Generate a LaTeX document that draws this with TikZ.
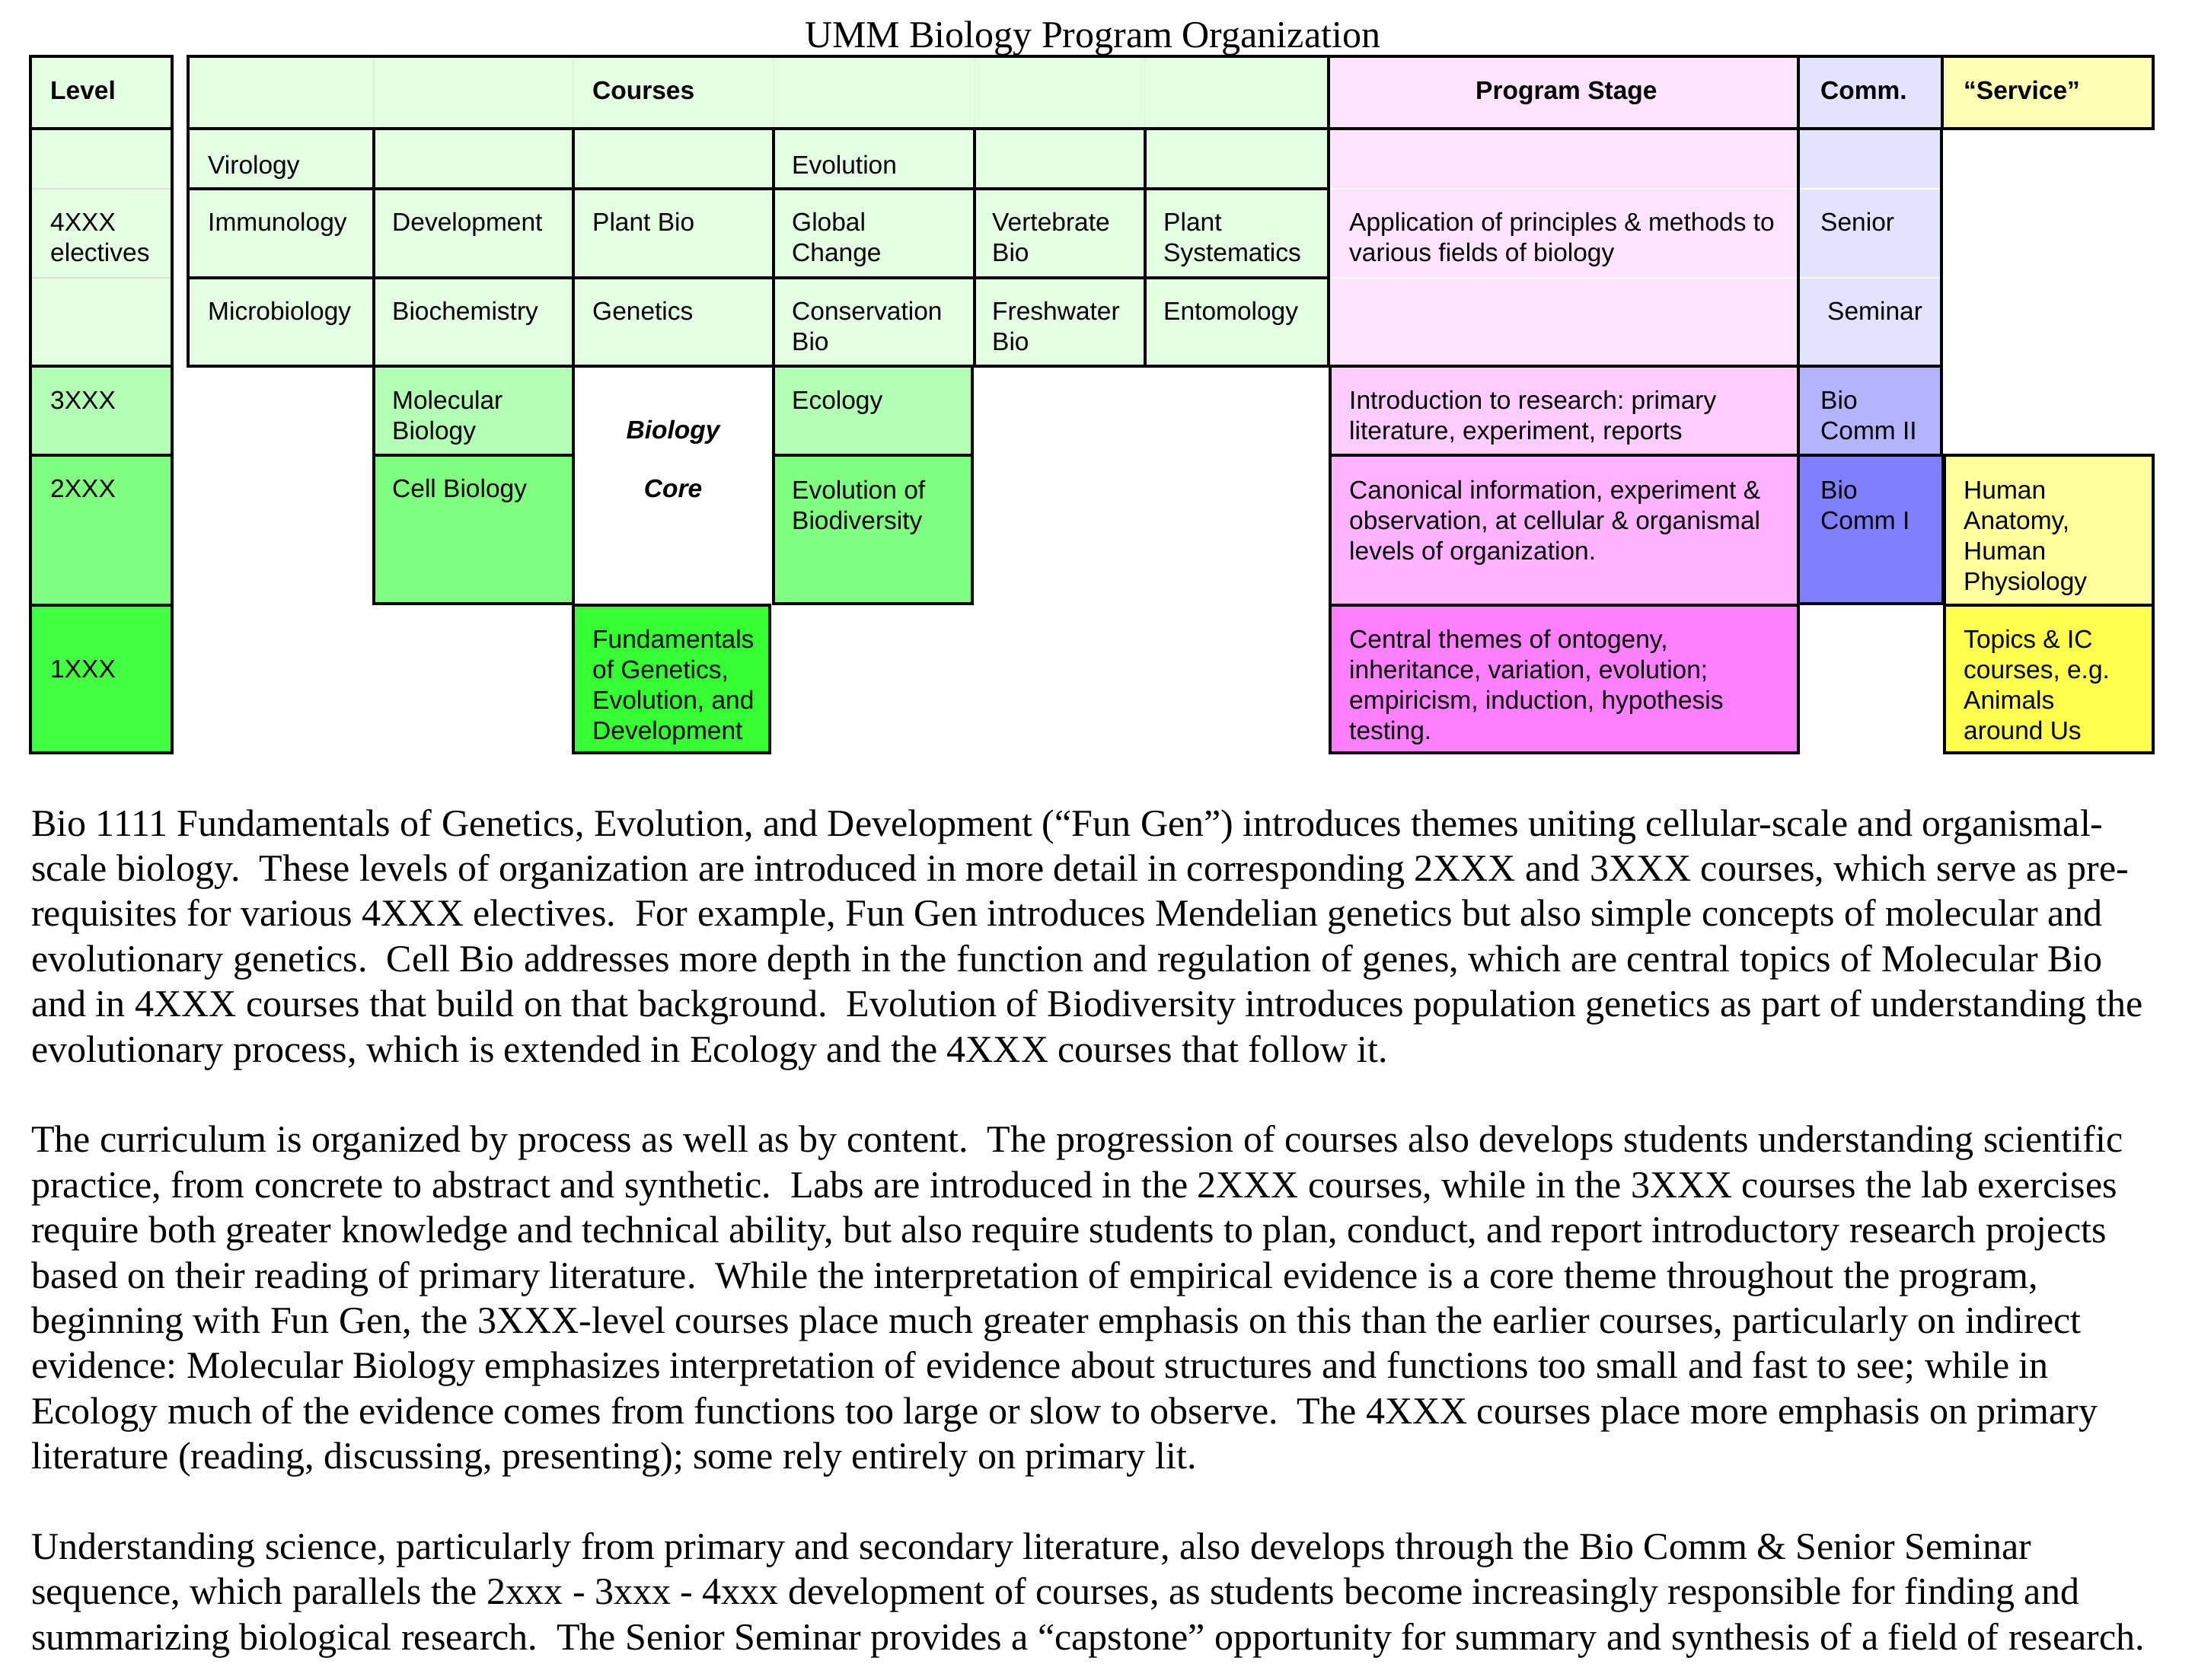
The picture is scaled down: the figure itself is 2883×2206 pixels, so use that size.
\documentclass[tikz,border=0pt]{standalone}
\usepackage{fontspec}
\setmainfont{Liberation Serif}
\newfontfamily\sansA{Liberation Sans}
\definecolor{Lz}{RGB}{227,254,227}
\definecolor{Lc}{RGB}{179,255,179}
\definecolor{Lb}{RGB}{128,255,128}
\definecolor{La}{RGB}{66,255,66}
\definecolor{Fg}{RGB}{51,255,51}
\definecolor{Pz}{RGB}{255,227,255}
\definecolor{Pc}{RGB}{255,204,255}
\definecolor{Pb}{RGB}{255,179,255}
\definecolor{Pa}{RGB}{255,128,255}
\definecolor{Cz}{RGB}{227,227,255}
\definecolor{Cc}{RGB}{179,179,255}
\definecolor{Cb}{RGB}{128,128,255}
\definecolor{Sz}{RGB}{255,255,179}
\definecolor{Sb}{RGB}{255,255,153}
\definecolor{Sa}{RGB}{255,255,77}
\definecolor{faintg}{RGB}{218,245,218}
\definecolor{faintl}{RGB}{215,225,215}
\newcommand\tabfont{\sansA\fontsize{33.5}{40}\selectfont}
\newcommand\bodyfont{\fontsize{50}{59.4}\selectfont}
\newcommand\ml[1]{\begin{tabular}[t]{@{}l@{}}#1\end{tabular}}
\newcommand\dsp{\ \ }
\frenchspacing
\begin{document}
\begin{tikzpicture}[x=1pt,y=-1pt,
  cell/.style={draw=black,line width=4pt},
  faint/.style={line width=1.5pt},
  tx/.style={anchor=base west,inner sep=0pt,font=\tabfont},
  hd/.style={anchor=base west,inner sep=0pt,font=\tabfont\bfseries},
  bt/.style={anchor=base,inner sep=0pt,font=\tabfont\bfseries\itshape},
  body/.style={anchor=base west,inner sep=0pt,font=\bodyfont}]
\path[use as bounding box,fill=white] (0,0) rectangle (2883,2206);

% ---------- title ----------
\node[anchor=base,inner sep=0pt,font=\fontsize{50}{60}\selectfont] (title) at (1435,62) {UMM Biology Program Organization};

% ---------- Level column ----------
\path[fill=Lz] (40,74) rectangle (226,169);
\path[fill=Lz] (40,169) rectangle (226,481);
\draw[faint,faintl] (40,248) -- (226,248) (40,365) -- (226,365);
\draw[cell] (40,74) rectangle (226,169);
\draw[cell] (40,169) rectangle (226,481);
\draw[cell,fill=Lc] (40,481) rectangle (226,598);
\draw[cell,fill=Lb] (40,598) rectangle (226,795);
\draw[cell,fill=La] (40,795) rectangle (226,989);

% ---------- Courses ----------
\path[fill=Lz] (247,74) rectangle (1745,481);
\draw[faint,faintg] (491,74) -- (491,169) (753,74) -- (753,169) (1016,74) -- (1016,169)
  (1280,74) -- (1280,169) (1504,74) -- (1504,169);
\draw[cell] (247,74) rectangle (1745,169);
\foreach \xa/\xb in {247/491,491/753,753/1016,1016/1280,1280/1504,1504/1745}{
  \draw[cell] (\xa,169) rectangle (\xb,248);
  \draw[cell] (\xa,248) rectangle (\xb,365);
  \draw[cell] (\xa,365) rectangle (\xb,481);
}
\draw[cell,fill=Lc] (491,481) rectangle (753,598);
\draw[cell,fill=Lb] (491,598) rectangle (753,793);
\draw[cell,fill=Lc] (1016,481) rectangle (1277,598);
\draw[cell,fill=Lb] (1016,598) rectangle (1277,793);
\draw[cell,fill=Fg] (753,795) rectangle (1011,989);

% ---------- Program Stage ----------
\path[fill=Pz] (1745,74) rectangle (2362,169);
\path[fill=Pz] (1745,169) rectangle (2362,481);
\draw[faint,white] (1745,248) -- (2362,248) (1745,365) -- (2362,365);
\draw[cell] (1745,74) rectangle (2362,169);
\draw[cell] (1745,169) rectangle (2362,481);
\draw[cell,fill=Pc] (1747,481) rectangle (2362,598);
\draw[cell,fill=Pb] (1747,598) rectangle (2362,795);
\draw[cell,fill=Pa] (1747,795) rectangle (2362,989);

% ---------- Comm ----------
\path[fill=Cz] (2362,74) rectangle (2551,169);
\path[fill=Cz] (2362,169) rectangle (2550,481);
\draw[faint,white] (2362,248) -- (2550,248) (2362,365) -- (2550,365);
\draw[cell] (2362,74) rectangle (2551,169);
\draw[cell] (2362,169) rectangle (2550,481);
\draw[cell,fill=Cc] (2362,481) rectangle (2550,598);
\draw[cell,fill=Cb] (2362,598) rectangle (2552,793);

% ---------- Service ----------
\draw[cell,fill=Sz] (2551,74) rectangle (2828,169);
\draw[cell,fill=Sb] (2554,598) rectangle (2828,795);
\draw[cell,fill=Sa] (2554,795) rectangle (2828,989);

% ---------- headers ----------
\node[hd] (hLevel) at (66,130) {Level};
\node[hd] (hCourses) at (778,130) {Courses};
\node[hd] (hStage) at (1938,130) {Program Stage};
\node[hd] (hComm) at (2391,130) {Comm.};
\node[hd] (hServ) at (2579,130) {“Service”};

% ---------- level labels ----------
\node[tx] (l4) at (66,303) {\ml{4XXX\\electives}};
\node[tx] (l3) at (66,537) {3XXX};
\node[tx] (l2) at (66,653) {2XXX};
\node[tx] (l1) at (66,890) {1XXX};

% ---------- 4XXX courses ----------
\node[tx] (cVir) at (273,228) {Virology};
\node[tx] (cEvo) at (1040,228) {Evolution};
\node[tx] (cImm) at (273,303) {Immunology};
\node[tx] (cDev) at (515,303) {Development};
\node[tx] (cPlb) at (778,303) {Plant Bio};
\node[tx] (cGlo) at (1040,303) {\ml{Global\\Change}};
\node[tx] (cVer) at (1303,303) {\ml{Vertebrate\\Bio}};
\node[tx] (cPls) at (1528,303) {\ml{Plant\\Systematics}};
\node[tx] (cMic) at (273,420) {Microbiology};
\node[tx] (cBio) at (515,420) {Biochemistry};
\node[tx] (cGen) at (778,420) {Genetics};
\node[tx] (cCon) at (1040,420) {\ml{Conservation\\Bio}};
\node[tx] (cFre) at (1303,420) {\ml{Freshwater\\Bio}};
\node[tx] (cEnt) at (1528,420) {Entomology};

% ---------- core ----------
\node[tx] (cMol) at (515,537) {\ml{Molecular\\Biology}};
\node[tx] (cEco) at (1040,537) {Ecology};
\node[tx] (cCel) at (515,653) {Cell Biology};
\node[tx] (cEvb) at (1040,655) {\ml{Evolution of\\Biodiversity}};
\node[tx] (cFun) at (778,851) {\ml{Fundamentals\\of Genetics,\\Evolution, and\\Development}};
\node[bt] (core1) at (884,576) {Biology};
\node[bt] (core2) at (884,653) {Core};

% ---------- program stage ----------
\node[tx] (s4) at (1772,303) {\ml{Application of principles \& methods to\\various fields of biology}};
\node[tx] (s3) at (1772,537) {\ml{Introduction to research: primary\\literature, experiment, reports}};
\node[tx] (s2) at (1772,655) {\ml{Canonical information, experiment \&\\observation, at cellular \& organismal\\levels of organization.}};
\node[tx] (s1) at (1772,851) {\ml{Central themes of ontogeny,\\inheritance, variation, evolution;\\empiricism, induction, hypothesis\\testing.}};

% ---------- comm ----------
\node[tx] (mSen) at (2391,303) {Senior};
\node[tx] (mSem) at (2400,420) {Seminar};
\node[tx] (m2) at (2391,537) {\ml{Bio\\Comm II}};
\node[tx] (m1) at (2391,655) {\ml{Bio\\Comm I}};

% ---------- service ----------
\node[tx] (v2) at (2579,655) {\ml{Human\\Anatomy,\\Human\\Physiology}};
\node[tx] (v1) at (2579,851) {\ml{Topics \& IC\\courses, e.g.\\Animals\\around Us}};

% ---------- body text ----------
\node[body] (p1) at (41,1098) {\ml{%
Bio 1111 Fundamentals of Genetics, Evolution, and Development (“Fun Gen”) introduces themes uniting cellular-scale and organismal-\\
scale biology.\dsp These levels of organization are introduced in more detail in corresponding 2XXX and 3XXX courses, which serve as pre-\\
requisites for various 4XXX electives.\dsp For example, Fun Gen introduces Mendelian genetics but also simple concepts of molecular and\\
evolutionary genetics.\dsp Cell Bio addresses more depth in the function and regulation of genes, which are central topics of Molecular Bio\\
and in 4XXX courses that build on that background.\dsp Evolution of Biodiversity introduces population genetics as part of understanding the\\
evolutionary process, which is extended in Ecology and the 4XXX courses that follow it.}};

\node[body] (p2) at (41,1513.8) {\ml{%
The curriculum is organized by process as well as by content.\dsp The progression of courses also develops students understanding scientific\\
practice, from concrete to abstract and synthetic.\dsp Labs are introduced in the 2XXX courses, while in the 3XXX courses the lab exercises\\
require both greater knowledge and technical ability, but also require students to plan, conduct, and report introductory research projects\\
based on their reading of primary literature.\dsp While the interpretation of empirical evidence is a core theme throughout the program,\\
beginning with Fun Gen, the 3XXX-level courses place much greater emphasis on this than the earlier courses, particularly on indirect\\
evidence: Molecular Biology emphasizes interpretation of evidence about structures and functions too small and fast to see; while in\\
Ecology much of the evidence comes from functions too large or slow to observe.\dsp The 4XXX courses place more emphasis on primary\\
literature (reading, discussing, presenting); some rely entirely on primary lit.}};

\node[body] (p3) at (41,2048.4) {\ml{%
Understanding science, particularly from primary and secondary literature, also develops through the Bio Comm \& Senior Seminar\\
sequence, which parallels the 2xxx - 3xxx - 4xxx development of courses, as students become increasingly responsible for finding and\\
summarizing biological research.\dsp The Senior Seminar provides a “capstone” opportunity for summary and synthesis of a field of research.}};
\end{tikzpicture}
\end{document}
